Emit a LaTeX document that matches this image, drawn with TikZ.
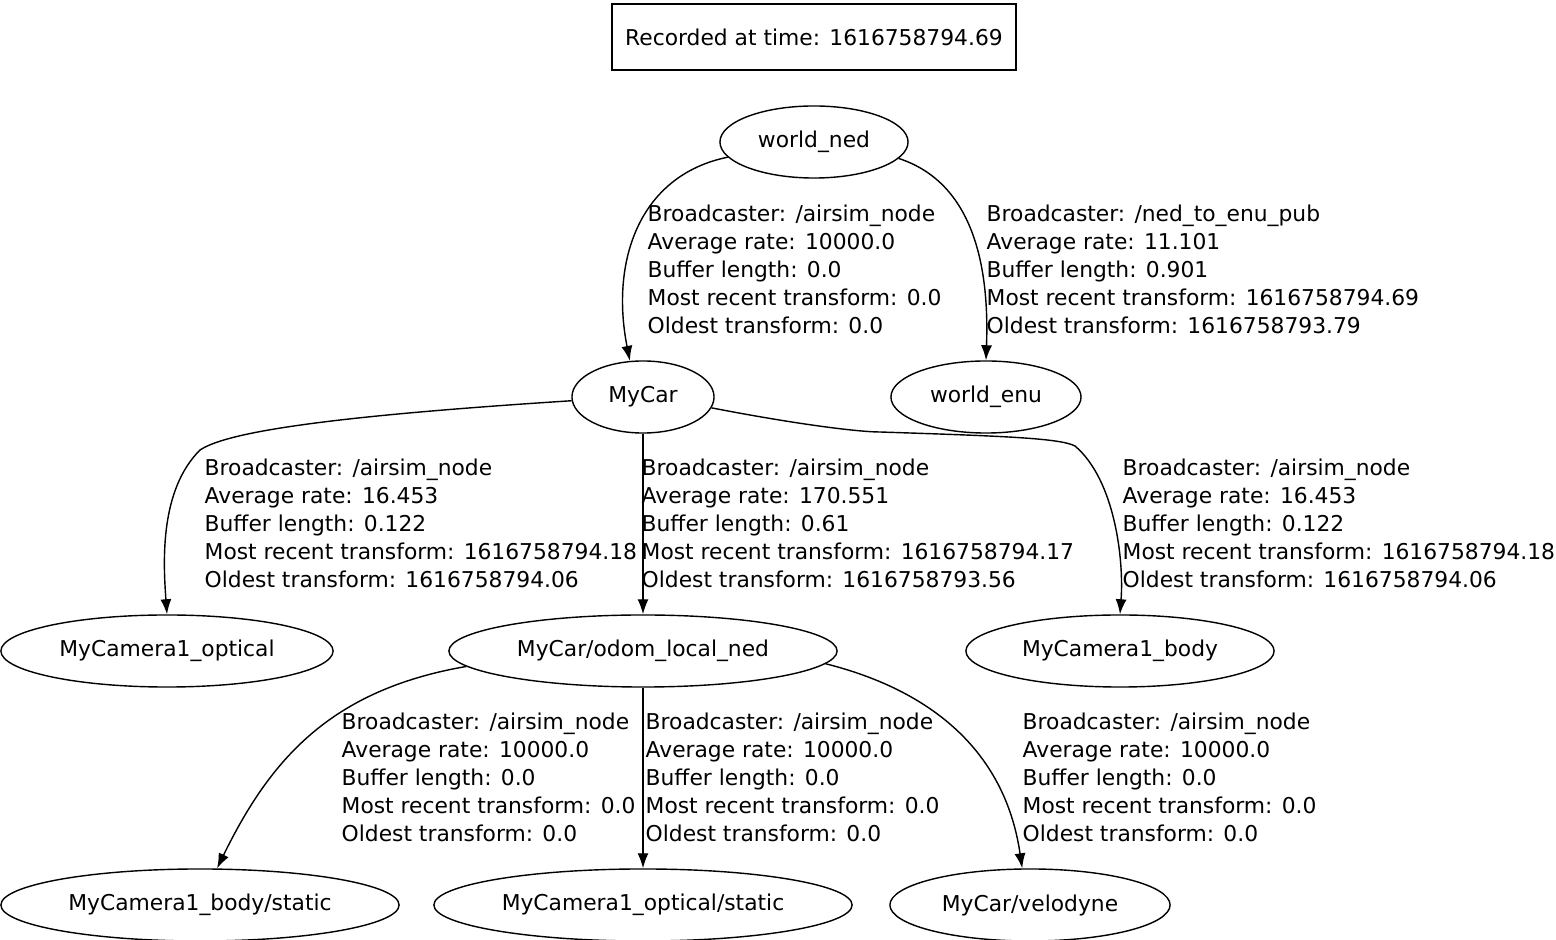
\documentclass[tikz,border=0pt]{standalone}
\usepackage{fontspec}
\setmainfont{DejaVu Sans}
\usetikzlibrary{shapes.geometric,arrows.meta}
\begin{document}
\begin{tikzpicture}[x=0.01cm,y=-0.01cm,
    every node/.style={font=\fontsize{6.2}{7.97}\selectfont},
    tf/.style={draw,ellipse,inner sep=0pt,minimum height=0.72cm},
    edge/.style={-{Latex[length=0.15cm,width=0.11cm]}},
    lbl/.style={anchor=west,align=left,inner sep=0pt}]
  \useasboundingbox (0,0) rectangle (1556,940);

  \node[draw,minimum width=4.04cm,minimum height=0.66cm] (title) at (814,37) {Recorded at time: 1616758794.69};

  \node[tf,minimum width=1.88cm] (wn) at (814,142) {world\_ned};
  \node[tf,minimum width=1.42cm] (car) at (643,397) {MyCar};
  \node[tf,minimum width=1.90cm] (enu) at (986,397) {world\_enu};
  \node[tf,minimum width=3.32cm] (copt) at (167,651) {MyCamera1\_optical};
  \node[tf,minimum width=3.88cm] (odom) at (643,651) {MyCar/odom\_local\_ned};
  \node[tf,minimum width=3.08cm] (cbody) at (1120,651) {MyCamera1\_body};
  \node[tf,minimum width=3.98cm] (cbs) at (200,905) {MyCamera1\_body/static};
  \node[tf,minimum width=4.18cm] (cos) at (643,905) {MyCamera1\_optical/static};
  \node[tf,minimum width=2.80cm] (velo) at (1030,905) {MyCar/velodyne};

  \draw[edge] (wn.190) .. controls (640,175) and (610,260) .. (car.110);
  \draw[edge] (wn.349) .. controls (965,180) and (990,250) .. (enu.north);
  \draw[edge] (car.183) .. controls (350,415) and (230,430) .. (200,450)
                        .. controls (160,490) and (163,560) .. (copt.north);
  \draw[edge] (car.south) -- (odom.north);
  \draw[edge] (car.351) .. controls (800,425) and (860,432) .. (880,432)
                        .. controls (1000,436) and (1060,438) .. (1075,446)
                        .. controls (1115,480) and (1124,560) .. (cbody.north);
  \draw[edge] (odom.185) .. controls (330,690) and (270,760) .. (cbs.65);
  \draw[edge] (odom.south) -- (cos.north);
  \draw[edge] (odom.356) .. controls (930,690) and (1005,750) .. (velo.102);

  \node[lbl] (l1) at (647,269) {Broadcaster: /airsim\_node\\Average rate: 10000.0\\Buffer length: 0.0\\Most recent transform: 0.0\\Oldest transform: 0.0};
  \node[lbl] (l2) at (986,269) {Broadcaster: /ned\_to\_enu\_pub\\Average rate: 11.101\\Buffer length: 0.901\\Most recent transform: 1616758794.69\\Oldest transform: 1616758793.79};
  \node[lbl] (l3) at (204,523) {Broadcaster: /airsim\_node\\Average rate: 16.453\\Buffer length: 0.122\\Most recent transform: 1616758794.18\\Oldest transform: 1616758794.06};
  \node[lbl] (l4) at (641,523) {Broadcaster: /airsim\_node\\Average rate: 170.551\\Buffer length: 0.61\\Most recent transform: 1616758794.17\\Oldest transform: 1616758793.56};
  \node[lbl] (l5) at (1122,523) {Broadcaster: /airsim\_node\\Average rate: 16.453\\Buffer length: 0.122\\Most recent transform: 1616758794.18\\Oldest transform: 1616758794.06};
  \node[lbl] (l6) at (341,777) {Broadcaster: /airsim\_node\\Average rate: 10000.0\\Buffer length: 0.0\\Most recent transform: 0.0\\Oldest transform: 0.0};
  \node[lbl] (l7) at (645,777) {Broadcaster: /airsim\_node\\Average rate: 10000.0\\Buffer length: 0.0\\Most recent transform: 0.0\\Oldest transform: 0.0};
  \node[lbl] (l8) at (1022,777) {Broadcaster: /airsim\_node\\Average rate: 10000.0\\Buffer length: 0.0\\Most recent transform: 0.0\\Oldest transform: 0.0};
\end{tikzpicture}
\end{document}
